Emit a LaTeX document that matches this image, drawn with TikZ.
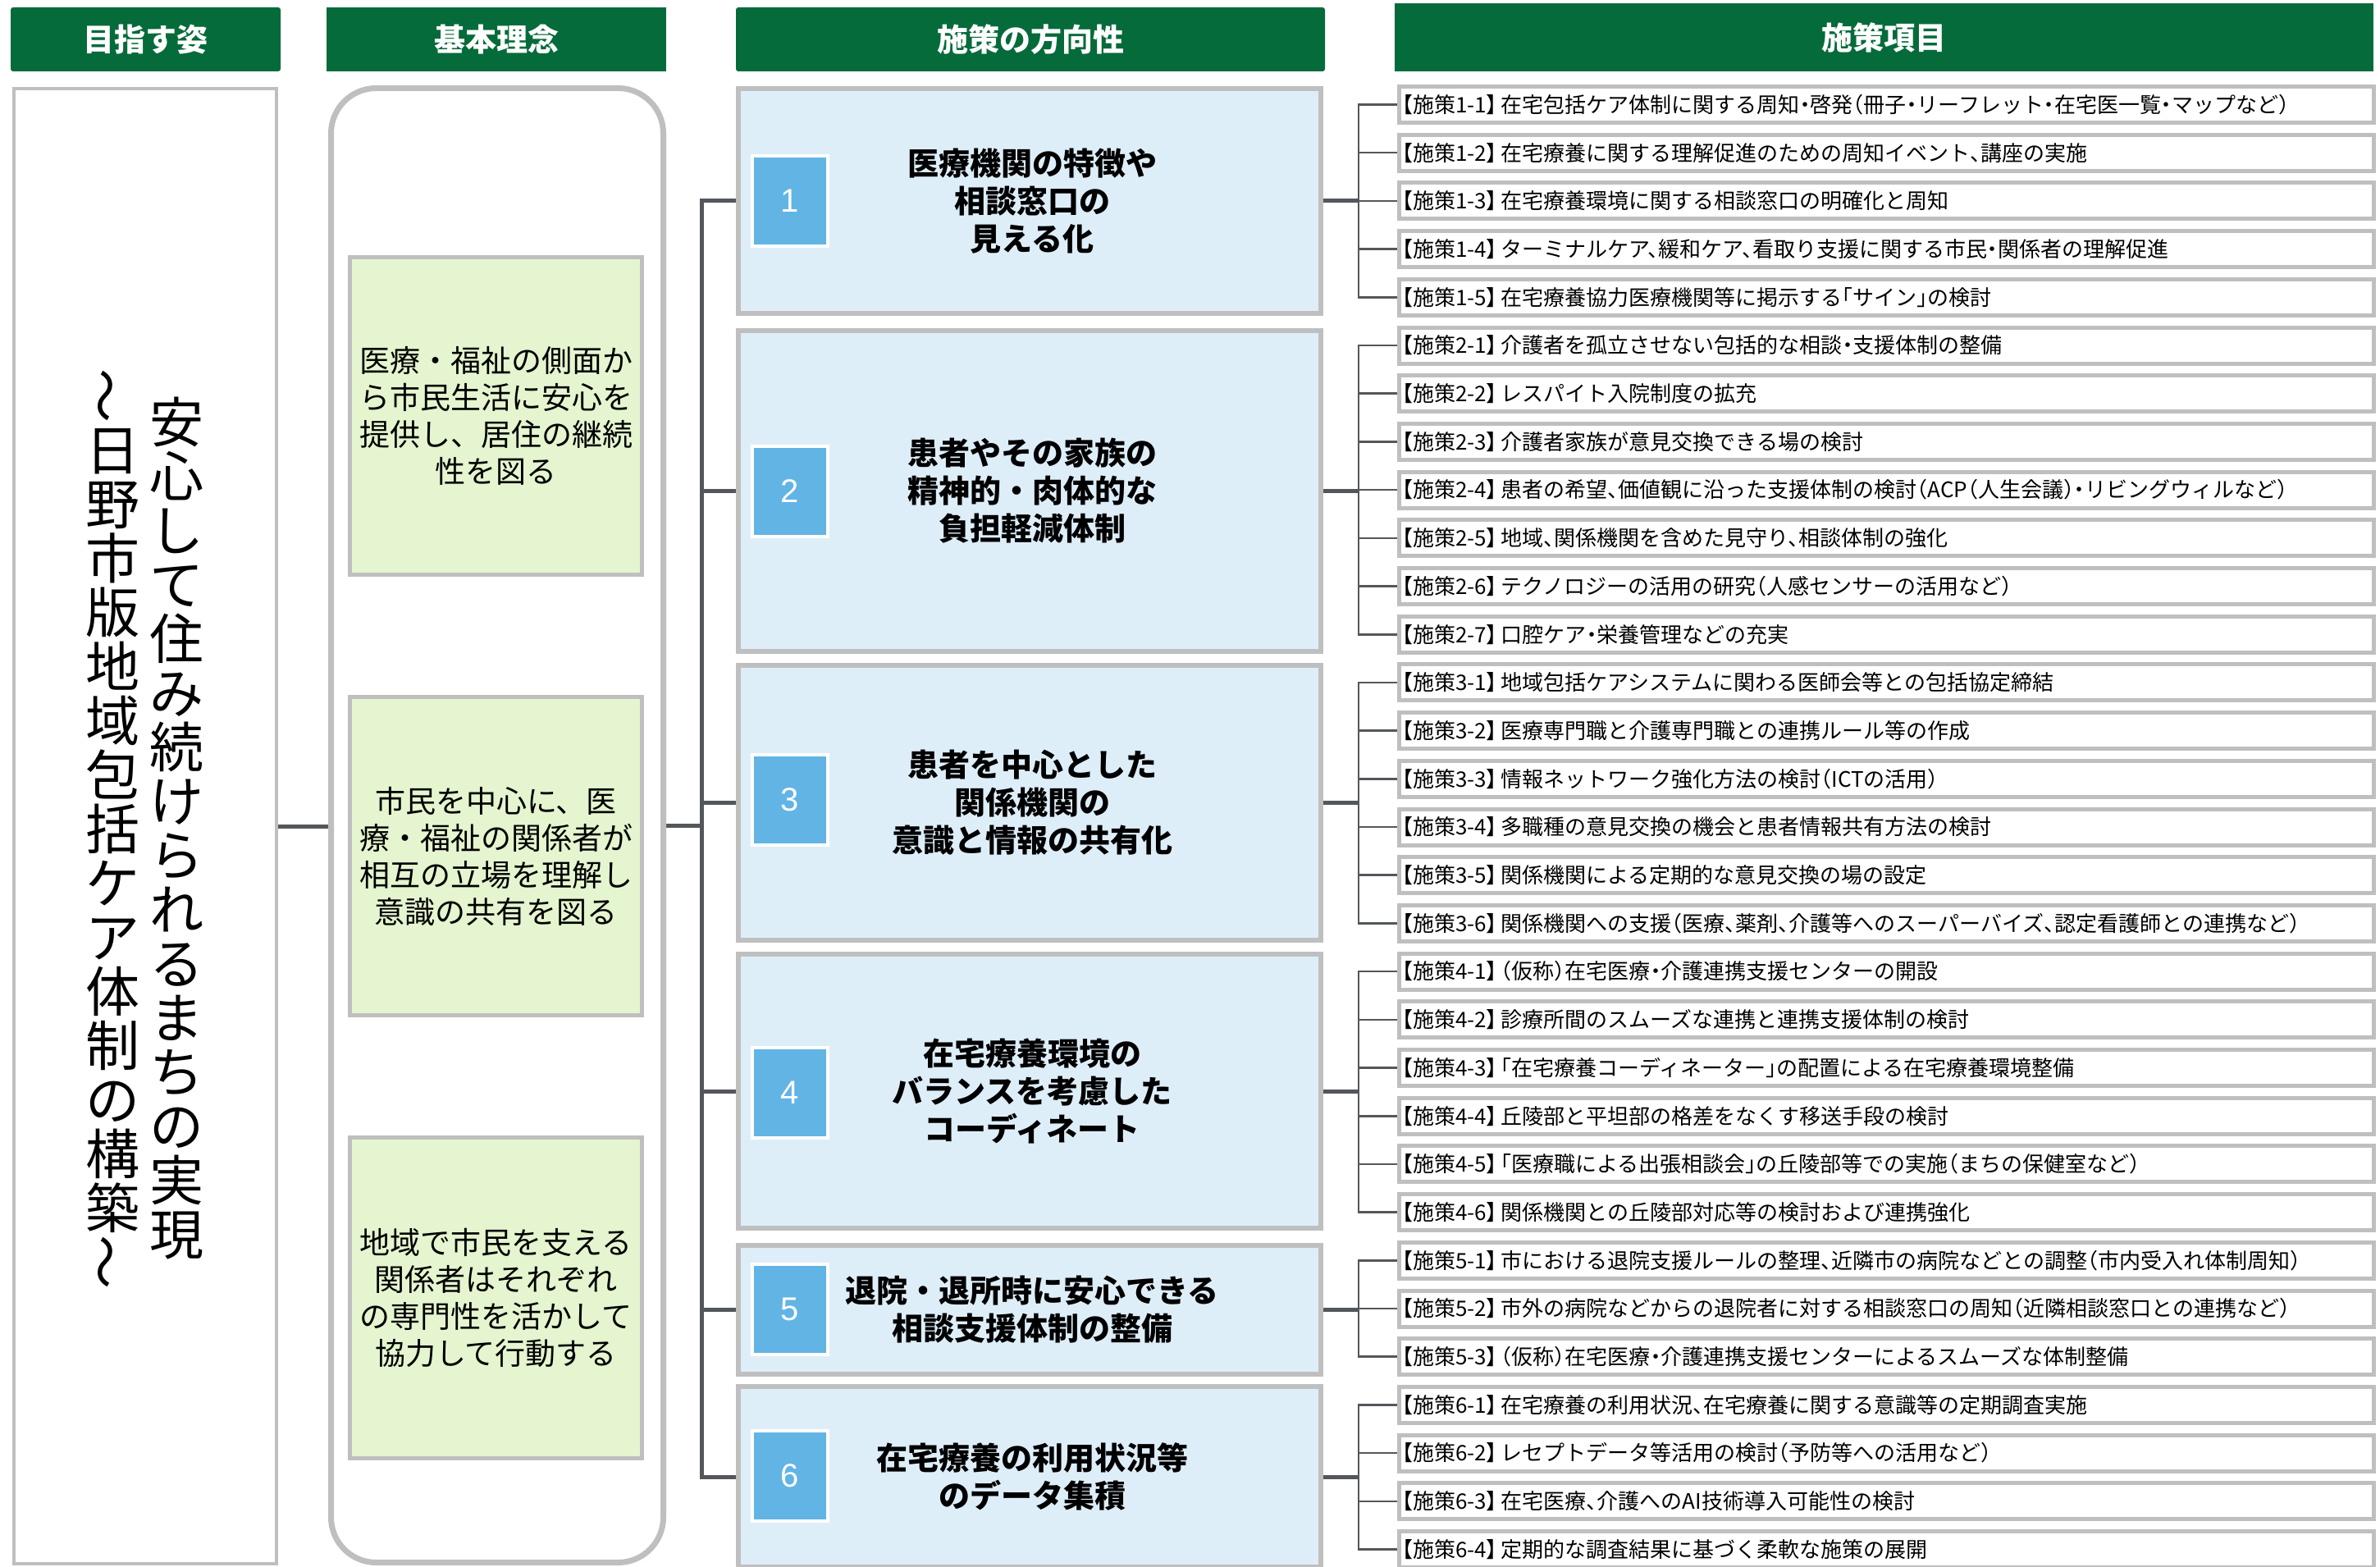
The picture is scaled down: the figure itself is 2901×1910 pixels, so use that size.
\documentclass[tikz,border=0pt]{standalone}
\usepackage{fontspec}
\setmainfont{Noto Sans CJK JP}
\newfontfamily\jp{Noto Sans CJK JP}
\newfontfamily\jph{Noto Sans CJK JP}[RawFeature=+halt]
\newfontfamily\numfont{Liberation Sans}
\usetikzlibrary{backgrounds}
\definecolor{hgreen}{HTML}{066B3A}
\definecolor{boxgray}{HTML}{BFBFBF}
\definecolor{bluefill}{HTML}{DEEEF9}
\definecolor{numblue}{HTML}{62B4E4}
\definecolor{greenfill}{HTML}{E4F5CF}
\definecolor{linegray}{HTML}{53575C}
\newcommand\vwave{\raisebox{0.13em}{\rotatebox[origin=c]{90}{～}}}
\newcommand\sk[1]{【施策#1】\kern0.18em}
\lineskiplimit=-1000pt
\lineskip=0pt
\begin{document}
\begin{tikzpicture}[x=1pt,y=-1pt,
  head/.style={fill=hgreen,text=white,inner sep=0pt,minimum height=78pt,
    font=\jp\bfseries\fontsize{38}{40}\selectfont},
  panel/.style={draw=boxgray,fill=white,inner sep=0pt},
  vtext/.style={align=center,inner sep=0pt,
    font=\jp\fontsize{66}{66}\selectfont},
  gbox/.style={draw=boxgray,line width=5pt,fill=greenfill,inner sep=0pt,
    minimum width=356pt,align=center,
    font=\jp\fontsize{37}{45}\selectfont},
  bbox/.style={draw=boxgray,line width=6pt,fill=bluefill,inner sep=0pt,
    minimum width=710pt},
  btext/.style={align=center,inner sep=0pt,
    font=\jp\bfseries\fontsize{38}{46}\selectfont},
  numbox/.style={fill=numblue,draw=white,line width=4pt,minimum width=92pt,
    minimum height=110pt,inner sep=0pt,text=white,
    font=\numfont\fontsize{40}{40}\selectfont},
  itembox/.style={draw=boxgray,line width=5pt,fill=white,anchor=west,
    inner xsep=4pt,inner ysep=0pt,minimum height=44pt,text width=1180pt,
    align=left,font=\jph\fontsize{26}{30}\selectfont},
  mainline/.style={draw=linegray,line width=5pt},
  subline/.style={draw=linegray,line width=2.6pt}
]
\useasboundingbox (0,0) rectangle (2901,1910);

% headers
\node[head,minimum width=329pt,rounded corners=3pt] (h1) at (177.5,48) {目指す姿};
\node[head,minimum width=414pt] (h2) at (605,48) {基本理念};
\node[head,minimum width=718pt,rounded corners=3pt] (h3) at (1256,48) {施策の方向性};
\node[head,minimum width=1193pt,minimum height=83pt] (h4) at (2296.5,45.5) {施策項目};

% left panel with vertical text
\node[panel,line width=4pt,minimum width=320pt,minimum height=1798pt] (p1) at (177,1007) {};
\node[vtext] (v1) at (215,1010) {安\\心\\し\\て\\住\\み\\続\\け\\ら\\れ\\る\\ま\\ち\\の\\実\\現};
\node[vtext] (v2) at (137,1010) {\vwave\\日\\野\\市\\版\\地\\域\\包\\括\\ケ\\ア\\体\\制\\の\\構\\築\\\vwave};

% rounded panel with green boxes
\node[panel,line width=7pt,rounded corners=55pt,minimum width=405pt,minimum height=1797pt] (p2) at (606,1006) {};
\node[gbox,minimum height=387pt] (g1) at (604.5,507) {医療・福祉の側面か\\ら市民生活に安心を\\提供し、居住の継続\\性を図る};
\node[gbox,minimum height=388pt] (g2) at (604.5,1043.5) {市民を中心に、医\\療・福祉の関係者が\\相互の立場を理解し\\意識の共有を図る};
\node[gbox,minimum height=391pt] (g3) at (604.5,1582) {地域で市民を支える\\関係者はそれぞれ\\の専門性を活かして\\協力して行動する};

% direction boxes
\node[bbox,minimum height=274pt] (b1) at (1255,245) {};
\node[bbox,minimum height=391pt] (b2) at (1255,598.5) {};
\node[bbox,minimum height=335pt] (b3) at (1255,978.5) {};
\node[bbox,minimum height=334pt] (b4) at (1255,1330) {};
\node[bbox,minimum height=157pt] (b5) at (1255,1596.5) {};
\node[bbox,minimum height=220pt] (b6) at (1255,1800) {};

\node[numbox] (n1) at (963,245) {1};
\node[numbox] (n2) at (963,598.5) {2};
\node[numbox] (n3) at (963,975) {3};
\node[numbox] (n4) at (963,1332) {4};
\node[numbox] (n5) at (963,1596) {5};
\node[numbox] (n6) at (963,1799) {6};

\node[btext] (t1) at (1258,245) {医療機関の特徴や\\相談窓口の\\見える化};
\node[btext] (t2) at (1258,598.5) {患者やその家族の\\精神的・肉体的な\\負担軽減体制};
\node[btext] (t3) at (1258,978.5) {患者を中心とした\\関係機関の\\意識と情報の共有化};
\node[btext] (t4) at (1258,1330) {在宅療養環境の\\バランスを考慮した\\コーディネート};
\node[btext] (t5) at (1258,1596.5) {退院・退所時に安心できる\\相談支援体制の整備};
\node[btext] (t6) at (1258,1800) {在宅療養の利用状況等\\のデータ集積};

% items
\node[itembox] (i1) at (1702.5,127.5) {\sk{1-1}在宅包括ケア体制に関する周知・啓発（冊子・リーフレット・在宅医一覧・マップなど）};
\node[itembox] (i2) at (1702.5,186.2) {\sk{1-2}在宅療養に関する理解促進のための周知イベント、講座の実施};
\node[itembox] (i3) at (1702.5,244.9) {\sk{1-3}在宅療養環境に関する相談窓口の明確化と周知};
\node[itembox] (i4) at (1702.5,303.6) {\sk{1-4}ターミナルケア、緩和ケア、看取り支援に関する市民・関係者の理解促進};
\node[itembox] (i5) at (1702.5,362.3) {\sk{1-5}在宅療養協力医療機関等に掲示する「サイン」の検討};
\node[itembox] (i6) at (1702.5,421.0) {\sk{2-1}介護者を孤立させない包括的な相談・支援体制の整備};
\node[itembox] (i7) at (1702.5,479.7) {\sk{2-2}レスパイト入院制度の拡充};
\node[itembox] (i8) at (1702.5,538.4) {\sk{2-3}介護者家族が意見交換できる場の検討};
\node[itembox] (i9) at (1702.5,597.1) {\sk{2-4}患者の希望、価値観に沿った支援体制の検討（ACP（人生会議）・リビングウィルなど）};
\node[itembox] (i10) at (1702.5,655.8) {\sk{2-5}地域、関係機関を含めた見守り、相談体制の強化};
\node[itembox] (i11) at (1702.5,714.5) {\sk{2-6}テクノロジーの活用の研究（人感センサーの活用など）};
\node[itembox] (i12) at (1702.5,773.2) {\sk{2-7}口腔ケア・栄養管理などの充実};
\node[itembox] (i13) at (1702.5,831.9) {\sk{3-1}地域包括ケアシステムに関わる医師会等との包括協定締結};
\node[itembox] (i14) at (1702.5,890.6) {\sk{3-2}医療専門職と介護専門職との連携ルール等の作成};
\node[itembox] (i15) at (1702.5,949.3) {\sk{3-3}情報ネットワーク強化方法の検討（ICTの活用）};
\node[itembox] (i16) at (1702.5,1008.0) {\sk{3-4}多職種の意見交換の機会と患者情報共有方法の検討};
\node[itembox] (i17) at (1702.5,1066.7) {\sk{3-5}関係機関による定期的な意見交換の場の設定};
\node[itembox] (i18) at (1702.5,1125.4) {\sk{3-6}関係機関への支援（医療、薬剤、介護等へのスーパーバイズ、認定看護師との連携など）};
\node[itembox] (i19) at (1702.5,1184.1) {\sk{4-1}（仮称）在宅医療・介護連携支援センターの開設};
\node[itembox] (i20) at (1702.5,1242.8) {\sk{4-2}診療所間のスムーズな連携と連携支援体制の検討};
\node[itembox] (i21) at (1702.5,1301.5) {\sk{4-3}「在宅療養コーディネーター」の配置による在宅療養環境整備};
\node[itembox] (i22) at (1702.5,1360.2) {\sk{4-4}丘陵部と平坦部の格差をなくす移送手段の検討};
\node[itembox] (i23) at (1702.5,1418.9) {\sk{4-5}「医療職による出張相談会」の丘陵部等での実施（まちの保健室など）};
\node[itembox] (i24) at (1702.5,1477.6) {\sk{4-6}関係機関との丘陵部対応等の検討および連携強化};
\node[itembox] (i25) at (1702.5,1536.3) {\sk{5-1}市における退院支援ルールの整理、近隣市の病院などとの調整（市内受入れ体制周知）};
\node[itembox] (i26) at (1702.5,1595.0) {\sk{5-2}市外の病院などからの退院者に対する相談窓口の周知（近隣相談窓口との連携など）};
\node[itembox] (i27) at (1702.5,1653.7) {\sk{5-3}（仮称）在宅医療・介護連携支援センターによるスムーズな体制整備};
\node[itembox] (i28) at (1702.5,1712.4) {\sk{6-1}在宅療養の利用状況、在宅療養に関する意識等の定期調査実施};
\node[itembox] (i29) at (1702.5,1771.1) {\sk{6-2}レセプトデータ等活用の検討（予防等への活用など）};
\node[itembox] (i30) at (1702.5,1829.8) {\sk{6-3}在宅医療、介護へのAI技術導入可能性の検討};
\node[itembox] (i31) at (1702.5,1888.5) {\sk{6-4}定期的な調査結果に基づく柔軟な施策の展開};

\coordinate (tj) at (855,1006);
\coordinate (jx) at (1656,0);

\begin{pgfonlayer}{background}
\fill[white] (0,0) rectangle (2901,1910);
\draw[mainline] (p1.east) -- (p1.east -| p2.west);
\draw[mainline] (p2.east) -- (tj);
\foreach \k in {1,...,6} { \draw[mainline] (tj) |- (b\k.west); }
\foreach \k in {1,...,6} { \draw[mainline] (b\k.east) -- (b\k.east -| jx); }
\foreach \n in {1,...,5} { \draw[subline] (b1.east -| jx) |- (i\n.west); }
\foreach \n in {6,...,12} { \draw[subline] (b2.east -| jx) |- (i\n.west); }
\foreach \n in {13,...,18} { \draw[subline] (b3.east -| jx) |- (i\n.west); }
\foreach \n in {19,...,24} { \draw[subline] (b4.east -| jx) |- (i\n.west); }
\foreach \n in {25,...,27} { \draw[subline] (b5.east -| jx) |- (i\n.west); }
\foreach \n in {28,...,31} { \draw[subline] (b6.east -| jx) |- (i\n.west); }
\end{pgfonlayer}
\end{tikzpicture}
\end{document}
